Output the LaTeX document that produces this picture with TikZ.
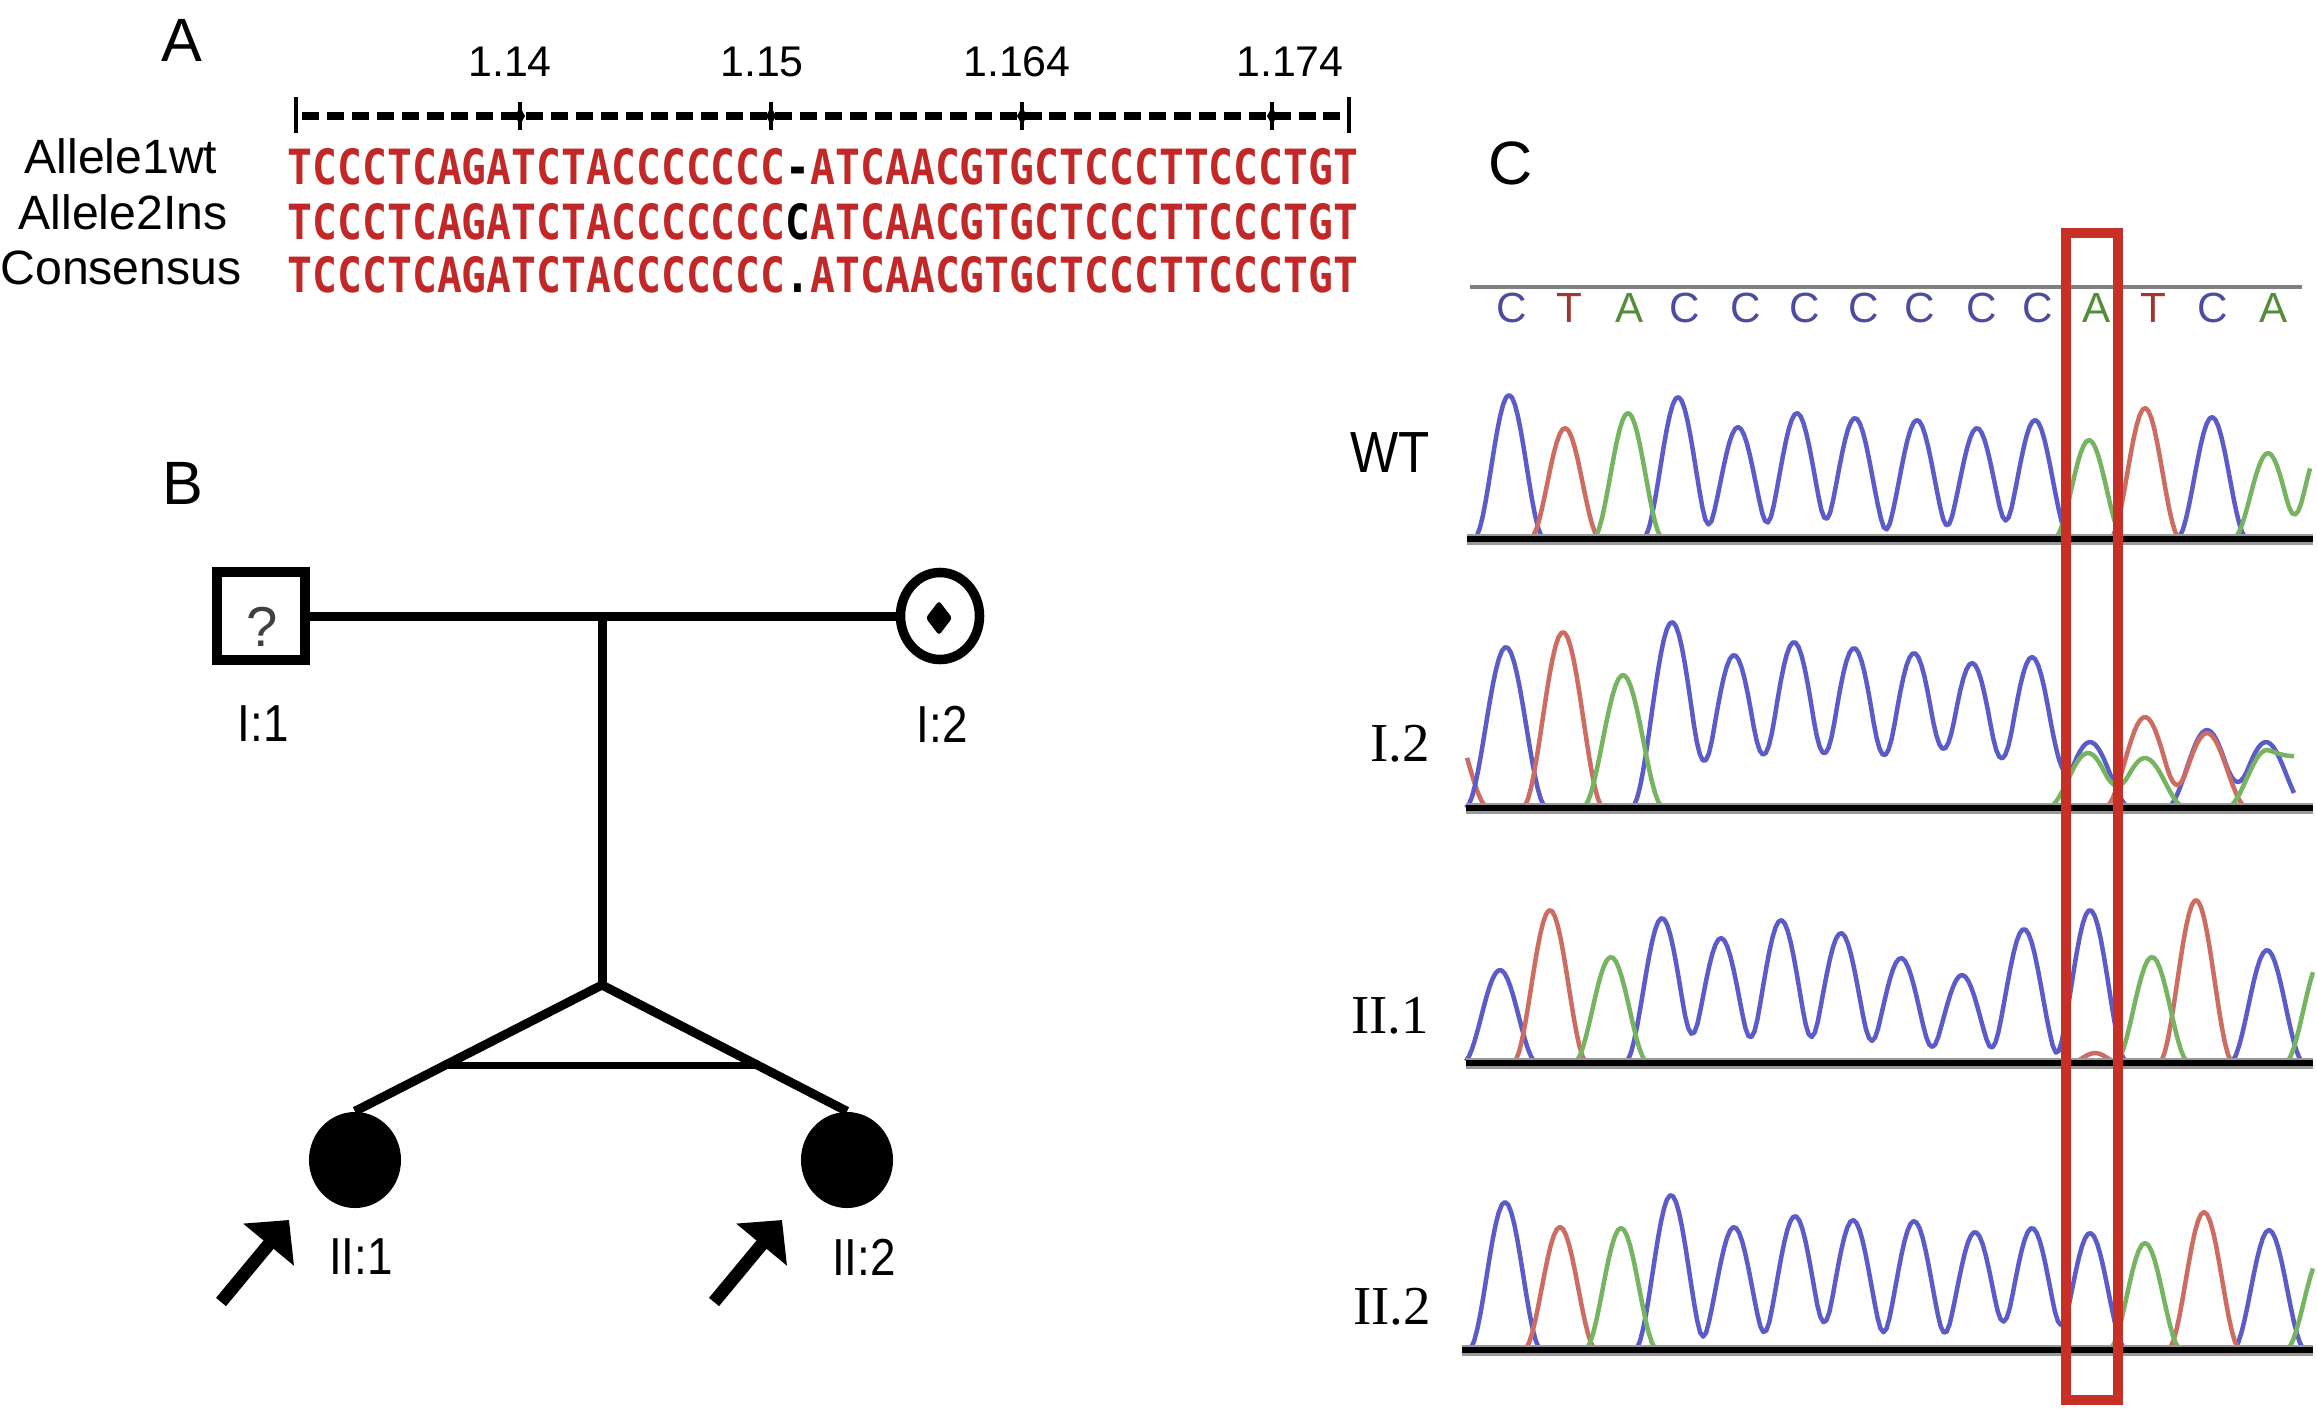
\documentclass[tikz,border=0pt]{standalone}
\usepackage{graphicx}
\usepackage{fontspec}
\setmainfont{Liberation Sans}
\newfontfamily\narrowfont{Liberation Sans}[FakeStretch=0.88]
\newfontfamily\timesfont{Liberation Serif}
\newfontfamily\seqfont{DejaVu Sans Mono}
\usetikzlibrary{shapes.geometric,arrows.meta,calc}
\definecolor{seqred}{RGB}{195,40,40}
\definecolor{boxred}{RGB}{198,48,38}
\definecolor{tblue}{RGB}{92,92,200}
\definecolor{tred}{RGB}{205,108,98}
\definecolor{tgreen}{RGB}{118,180,98}
\definecolor{lblue}{RGB}{75,75,160}
\definecolor{lred}{RGB}{160,55,50}
\definecolor{lgreen}{RGB}{85,140,60}
\def\sgW{35.5}
\def\sgI{41}
\def\sgA{37.5}
\def\sgB{36.7}
\begin{document}
\begin{tikzpicture}[x=0.01cm,y=-0.01cm,
  declare function={g(\gx,\gp,\gh,\gs)=\gh*cos(90*min(abs(\gx-\gp)/\gs,1))*cos(90*min(abs(\gx-\gp)/\gs,1));},
  panel/.style={font=\fontsize{17.4pt}{20pt}\selectfont,inner sep=0},
  num/.style={font=\fontsize{12.2pt}{14pt}\selectfont,inner sep=0},
  allele/.style={font=\fontsize{13.7pt}{16pt}\selectfont,inner sep=0},
  pedlbl/.style={font=\narrowfont\fontsize{14.8pt}{17pt}\selectfont,inner sep=0},
  serlbl/.style={font=\timesfont\fontsize{15.6pt}{18pt}\selectfont,inner sep=0},
  wtlbl/.style={font=\narrowfont\fontsize{16.5pt}{19pt}\selectfont,inner sep=0},
  basefont/.style={font=\fontsize{12pt}{14pt}\selectfont,inner sep=0},
  bC/.style={basefont,text=lblue},
  bT/.style={basefont,text=lred},
  bA/.style={basefont,text=lgreen},
  tr/.style={line width=0.045cm,line join=round},
  pedline/.style={line width=0.09cm},
  probarrow/.style={line width=0.13cm,-{Triangle[length=0.32cm,width=0.64cm]}},
  seqrow/.style={anchor=base west,inner sep=0},
  bline/.style={line width=0.065cm}
]
\path[fill=white] (0,0) rectangle (2317,1421);
\useasboundingbox (0,0) rectangle (2317,1421);

% ---------------- Panel A ----------------
\node[panel] (pA) at (182,40) {A};
\node[num] (n1) at (510,62) {1.14};
\node[num] (n2) at (762,62) {1.15};
\node[num] (n3) at (1017,62) {1.164};
\node[num] (n4) at (1290,62) {1.174};

\draw[line width=0.045cm] (296,97) -- (296,133);
\draw[line width=0.045cm] (1349,97) -- (1349,133);
\draw[line width=0.075cm,dash pattern=on 0.17cm off 0.079cm] (302,116) -- (1345,116);
\foreach \tx in {520,771,1022,1272}{
  \draw[line width=0.035cm] (\tx,102) -- (\tx,130);
  \fill (\tx,107) -- (\tx+5,116) -- (\tx,125) -- (\tx-5,116) -- cycle;
}

\node[allele] (al1) at (121,156) {Allele1wt};
\node[allele] (al2) at (123,212) {Allele2Ins};
\node[allele] (al3) at (121,268) {Consensus};

\node[seqrow] (s1) at (287,185) {\resizebox{10.7cm}{0.36cm}{\seqfont\bfseries\color{seqred}TCCCTCAGATCTACCCCCCC\textcolor{black}{-}ATCAACGTGCTCCCTTCCCTGT}};
\node[seqrow] (s2) at (287,239) {\resizebox{10.7cm}{0.36cm}{\seqfont\bfseries\color{seqred}TCCCTCAGATCTACCCCCCC\textcolor{black}{C}ATCAACGTGCTCCCTTCCCTGT}};
\node[seqrow] (s3) at (287,292) {\resizebox{10.7cm}{0.36cm}{\seqfont\bfseries\color{seqred}TCCCTCAGATCTACCCCCCC\textcolor{black}{.}ATCAACGTGCTCCCTTCCCTGT}};

% ---------------- Panel B ----------------
\node[panel] (pB) at (183,483) {B};
\node[draw,line width=0.1cm,minimum size=0.87cm,inner sep=0] (I1) at (261,616) {};
\node[font=\fontsize{16pt}{18pt}\selectfont,text=black!75,inner sep=0] (I1q) at (262,627) {?};
\node[draw,ellipse,line width=0.095cm,minimum width=0.79cm,minimum height=0.87cm,inner sep=0] (I2) at (940,616) {};
\node[diamond,fill,rounded corners=0.03cm,minimum width=0.27cm,minimum height=0.35cm,inner sep=0] (I2d) at (939,618) {};
\coordinate (m) at (602,616);
\coordinate (apex) at (602,985);
\draw[pedline] (I1.east) -- (I2.west);
\draw[pedline] (m) -- (apex);
\node[ellipse,fill,minimum width=0.92cm,minimum height=0.96cm,inner sep=0] (II1) at (355,1160) {};
\node[ellipse,fill,minimum width=0.92cm,minimum height=0.96cm,inner sep=0] (II2) at (847,1160) {};
\draw[pedline,line join=round] (II1.north) -- (apex) -- (II2.north);
\draw[line width=0.07cm] ($(apex)!0.64!(II1.north)$) -- ($(apex)!0.64!(II2.north)$);

\node[pedlbl] (L11) at (263,724) {I:1};
\node[pedlbl] (L12) at (942,724) {I:2};
\node[pedlbl] (L21) at (361,1257) {II:1};
\node[pedlbl] (L22) at (864,1257) {II:2};

\coordinate (a1t) at (221,1302);
\coordinate (a1h) at (289,1220);
\coordinate (a2t) at (714,1302);
\coordinate (a2h) at (782,1220);
\draw[probarrow] (a1t) -- (a1h);
\draw[probarrow] (a2t) -- (a2h);

% ---------------- Panel C ----------------
\node[panel] (pC) at (1511,163) {C};
\draw[line width=0.045cm,black!50] (1470,287) -- (2302,287);
\node[bC] (b1) at (1512,308) {C};
\node[bT] (b2) at (1569,308) {T};
\node[bA] (b3) at (1630,308) {A};
\node[bC] (b4) at (1685,308) {C};
\node[bC] (b5) at (1746,308) {C};
\node[bC] (b6) at (1805,308) {C};
\node[bC] (b7) at (1864,308) {C};
\node[bC] (b8) at (1920,308) {C};
\node[bC] (b9) at (1982,308) {C};
\node[bC] (b10) at (2038,308) {C};
\node[bA] (b11) at (2097,308) {A};
\node[bT] (b12) at (2153,308) {T};
\node[bC] (b13) at (2213,308) {C};
\node[bA] (b14) at (2274,308) {A};

\node[wtlbl] (tWT) at (1390,453) {WT};
\node[serlbl] (tI2) at (1400,744) {I.2};
\node[serlbl] (tII1) at (1390,1016) {II.1};
\node[serlbl] (tII2) at (1392,1307) {II.2};

% WT trace (baseline 539)
\draw[tr,tblue] plot[domain=1474:1544,samples=25] (\x,{539-g(\x,1509,144,\sgW)});
\draw[tr,tblue] plot[domain=1643:2071,samples=145] (\x,{539-g(\x,1678,142,\sgW)-g(\x,1738,112,\sgW)-g(\x,1797,126,\sgW)-g(\x,1855,121,\sgW)-g(\x,1917,119,\sgW)-g(\x,1977,111,\sgW)-g(\x,2035,119,\sgW)});
\draw[tr,tblue] plot[domain=2177:2248,samples=25] (\x,{539-g(\x,2212,122,\sgW)});
\draw[tr,tred] plot[domain=1530:1601,samples=25] (\x,{539-g(\x,1565,111,\sgW)});
\draw[tr,tred] plot[domain=2110:2181,samples=25] (\x,{539-g(\x,2145,131,\sgW)});
\draw[tr,tgreen] plot[domain=1593:1664,samples=25] (\x,{539-g(\x,1628,126,\sgW)});
\draw[tr,tgreen] plot[domain=2054:2125,samples=25] (\x,{539-g(\x,2089,99,\sgW)});
\draw[tr,tgreen] plot[domain=2233:2310,samples=27] (\x,{539-g(\x,2268,86,\sgW)-g(\x,2322,95,\sgW)});

% I.2 trace (baseline 808)
\draw[tr,tred] plot[domain=1467:1489,samples=9] (\x,{808-g(\x,1448,90,\sgI)});
\draw[tr,tblue] plot[domain=1466:1547,samples=28] (\x,{808-g(\x,1506,161,\sgI)});
\draw[tr,tblue] plot[domain=1631:2131,samples=168] (\x,{808-g(\x,1672,186,\sgI)-g(\x,1734,153,\sgI)-g(\x,1794,166,\sgI)-g(\x,1854,160,\sgI)-g(\x,1914,155,\sgI)-g(\x,1972,145,\sgI)-g(\x,2032,151,\sgI)-g(\x,2090,66,\sgI)});
\draw[tr,tblue] plot[domain=2166:2294,samples=44] (\x,{808-g(\x,2207,78,\sgI)-g(\x,2266,66,\sgI)});
\draw[tr,tred] plot[domain=1522:1604,samples=28] (\x,{808-g(\x,1563,176,\sgI)});
\draw[tr,tred] plot[domain=2104:2248,samples=49] (\x,{808-g(\x,2145,91,\sgI)-g(\x,2207,75,\sgI)});
\draw[tr,tgreen] plot[domain=1582:1664,samples=28] (\x,{808-g(\x,1623,133,\sgI)});
\draw[tr,tgreen] plot[domain=2047:2186,samples=47] (\x,{808-g(\x,2088,55,\sgI)-g(\x,2145,50,\sgI)});
\draw[tr,tgreen] plot[domain=2226:2294,samples=24] (\x,{808-g(\x,2267,58,\sgI)-g(\x,2310,55,\sgI)});

% II.1 trace (baseline 1063)
\draw[tr,tblue] plot[domain=1466:1537,samples=25] (\x,{1063-g(\x,1500,93,\sgA)});
\draw[tr,tblue] plot[domain=1625:2128,samples=168] (\x,{1063-g(\x,1662,145,\sgA)-g(\x,1721,125,\sgA)-g(\x,1781,143,\sgA)-g(\x,1841,130,\sgA)-g(\x,1901,105,\sgA)-g(\x,1962,88,\sgA)-g(\x,2024,134,\sgA)-g(\x,2090,153,\sgA)});
\draw[tr,tblue] plot[domain=2230:2305,samples=26] (\x,{1063-g(\x,2267,113,\sgA)});
\draw[tr,tred] plot[domain=1513:1588,samples=26] (\x,{1063-g(\x,1550,153,\sgA)});
\draw[tr,tred] plot[domain=2070:2120,samples=18] (\x,{1063-g(\x,2095,10,25)});
\draw[tr,tred] plot[domain=2159:2234,samples=26] (\x,{1063-g(\x,2196,163,\sgA)});
\draw[tr,tgreen] plot[domain=1574:1649,samples=26] (\x,{1063-g(\x,1611,106,\sgA)});
\draw[tr,tgreen] plot[domain=2115:2190,samples=26] (\x,{1063-g(\x,2152,106,\sgA)});
\draw[tr,tgreen] plot[domain=2285:2313,samples=11] (\x,{1063-g(\x,2322,105,\sgA)});

% II.2 trace (baseline 1350)
\draw[tr,tblue] plot[domain=1468:1542,samples=25] (\x,{1350-g(\x,1505,148,\sgB)});
\draw[tr,tblue] plot[domain=1634:2127,samples=165] (\x,{1350-g(\x,1671,155,\sgB)-g(\x,1734,123,\sgB)-g(\x,1795,134,\sgB)-g(\x,1853,130,\sgB)-g(\x,1914,129,\sgB)-g(\x,1975,118,\sgB)-g(\x,2032,122,\sgB)-g(\x,2090,117,\sgB)});
\draw[tr,tblue] plot[domain=2232:2306,samples=25] (\x,{1350-g(\x,2269,120,\sgB)});
\draw[tr,tred] plot[domain=1523:1597,samples=25] (\x,{1350-g(\x,1560,123,\sgB)});
\draw[tr,tred] plot[domain=2167:2241,samples=25] (\x,{1350-g(\x,2204,138,\sgB)});
\draw[tr,tgreen] plot[domain=1584:1658,samples=25] (\x,{1350-g(\x,1621,122,\sgB)});
\draw[tr,tgreen] plot[domain=2108:2182,samples=25] (\x,{1350-g(\x,2145,107,\sgB)});
\draw[tr,tgreen] plot[domain=2285:2313,samples=11] (\x,{1350-g(\x,2322,95,\sgB)});

% baselines
\foreach \by/\bx in {539/1467,808/1466,1063/1466,1350/1462}{
  \draw[line width=0.11cm,black!40] (\bx,\by) -- (2313,\by);
  \draw[bline] (\bx,\by) -- (2313,\by);
}

% highlight box
\draw[boxred,line width=0.1cm] (2066,233) rectangle (2118,1400);
\end{tikzpicture}
\end{document}
